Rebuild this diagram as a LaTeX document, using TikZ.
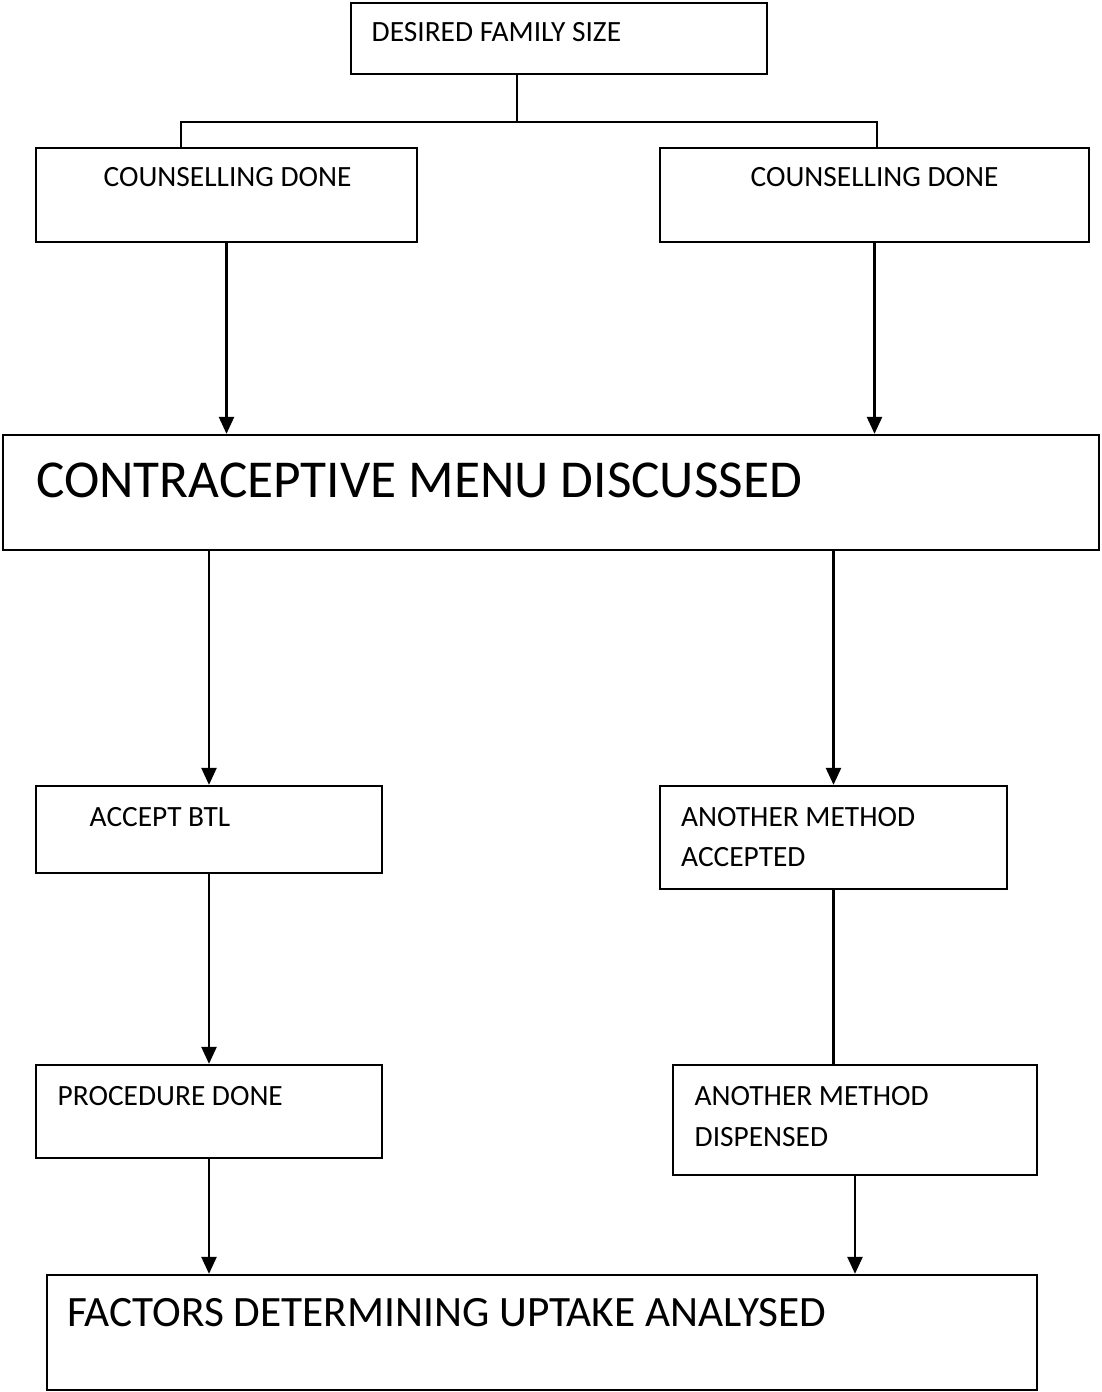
\documentclass[tikz,border=0pt]{standalone}
\usepackage{fontspec}
\setmainfont{Carlito}
\usetikzlibrary{arrows.meta}

\begin{document}
\begin{tikzpicture}[x=1pt,y=-1pt]

	\tikzstyle box lines=[draw, line width=2.3pt, inner sep=0pt];
	\tikzstyle flow lines=[line width=2.4pt];
	\tikzstyle flow arrows=[flow lines, -{Triangle[length=17pt,width=15pt]}];
	\tikzstyle small text=[anchor=base west, inner sep=0pt, align=left, font=\fontsize{29.4}{40.7}\selectfont];
	\tikzstyle big text=[anchor=base west, inner sep=0pt];

	\useasboundingbox (0,0) rectangle (1101,1392);

		\foreach \name/\x/\y/\w/\h in {dfs/559/38.5/416/71, cd1/226.5/195/381/94, cd2/874.5/195/429/94,
				menu/551/492.5/1096/115, btl/209/829.5/346/87, amacc/833.5/837.5/347/103,
				proc/209/1111.5/346/93, amdisp/855/1120/364/110, factors/542/1332.5/990/115}
			\node[box lines, minimum width=\w pt, minimum height=\h pt] (\name) at (\x,\y) {};

		% base of a two-line text is its last line
		\foreach \name/\x/\y/\txt in {tdfs/371.5/41.7/DESIRED FAMILY SIZE, tcd1/103.5/186/COUNSELLING DONE,
				tcd2/750.5/186/COUNSELLING DONE, tbtl/89.5/826/ACCEPT BTL,
				tamacc/681/866.7/ANOTHER METHOD\\ACCEPTED, tproc/57.5/1105/PROCEDURE DONE,
				tamdisp/694.5/1146/ANOTHER METHOD\\DISPENSED}
			\node[small text] (\name) at (\x,\y) {\txt};

		\node[big text, font=\fontsize{53.3}{60}\selectfont] (tmenu) at (36,497.7) {CONTRACEPTIVE MENU DISCUSSED};
		\node[big text, font=\fontsize{43.3}{50}\selectfont] (tfactors) at (67,1326) {FACTORS DETERMINING UPTAKE ANALYSED};

		\coordinate (split) at (517,122);
		\coordinate (forkL) at (181,122);
		\coordinate (forkR) at (877,122);
		\draw[flow lines] (dfs.south -| split) -- (split);
		\draw[flow lines] (forkL |- cd1.north) -- (forkL) -- (forkR) -- (forkR |- cd2.north);

		\draw[flow arrows] (cd1.south) -- (cd1.south |- menu.north);
		\draw[flow arrows] (cd2.south) -- (cd2.south |- menu.north);
		\draw[flow arrows] (btl.north |- menu.south) -- (btl.north);
		\draw[flow arrows] (amacc.north |- menu.south) -- (amacc.north);
		\draw[flow arrows] (btl.south) -- (proc.north);
		\draw[flow lines] (amacc.south) -- (amacc.south |- amdisp.north);
		\draw[flow arrows] (proc.south) -- (proc.south |- factors.north);
		\draw[flow arrows] (amdisp.south) -- (amdisp.south |- factors.north);

\end{tikzpicture}
\end{document}
